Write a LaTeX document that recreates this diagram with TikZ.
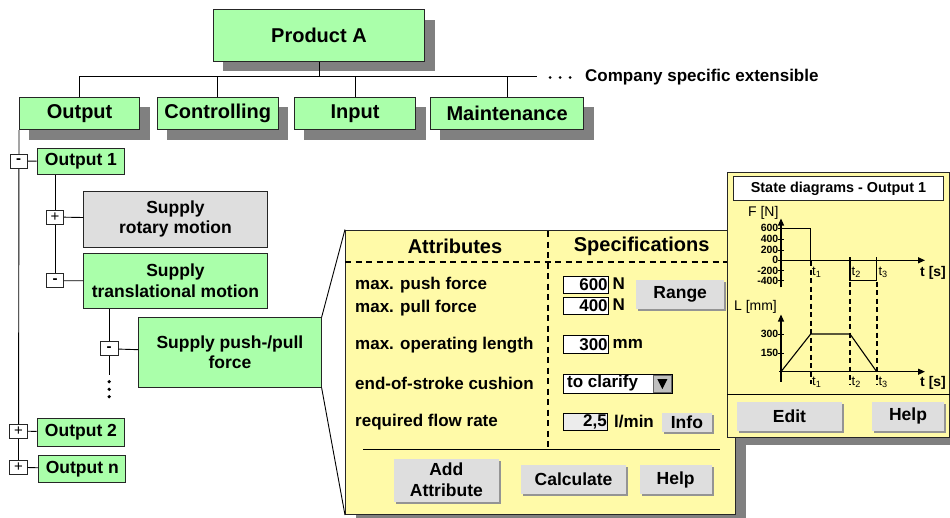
\documentclass[tikz,border=0pt]{standalone}
\usepackage{fontspec}
\setmainfont{Liberation Sans}
\usetikzlibrary{shadows,arrows.meta}
\definecolor{boxgreen}{RGB}{170,255,170}
\definecolor{shgray}{RGB}{128,128,128}
\definecolor{paneyellow}{RGB}{255,250,168}
\definecolor{btngray}{RGB}{222,222,222}
\definecolor{fieldgray}{RGB}{236,236,236}
\newcommand\setfs[2]{\fontsize{#1}{#2}\selectfont}
\begin{document}
\begin{tikzpicture}[x=1pt,y=-1pt,
  base/.style={inner sep=0pt, align=center, font=\bfseries\setfs{17.5}{20.5}},
  gbox/.style={base, draw=black!85, line width=0.9pt, fill=boxgreen},
  shadowed/.style={drop shadow={shadow xshift=10pt, shadow yshift=-10pt, fill=shgray, opacity=1}},
  toggle/.style={draw=black!85, line width=0.9pt, fill=white, minimum width=17.5pt,
    minimum height=14pt, inner sep=0pt},
  minus/.style={toggle, font=\bfseries\setfs{15}{15}},
  plus/.style={toggle, font=\setfs{15}{15}},
  btn/.style={base, fill=btngray, anchor=north west,
    drop shadow={shadow xshift=2pt, shadow yshift=-2pt, fill=black!42, opacity=1}},
  field/.style={draw=black, line width=0.8pt, fill=white, inner xsep=1pt, inner ysep=0pt,
    anchor=north west, align=right, font=\bfseries\setfs{17}{17}},
  lbl/.style={anchor=west, inner sep=0pt, font=\bfseries\setfs{17}{17}},
  tree/.style={line width=0.9pt},
  pane/.style={draw=black!85, line width=1pt, fill=paneyellow, inner sep=0pt, anchor=north west},
  sep/.style={dash pattern=on 6pt off 4.5pt, line width=2.2pt},
  axis/.style={line width=1.2pt, -{Triangle[length=7pt,width=6pt]}},
  curve/.style={line width=1.1pt},
  tdash/.style={dash pattern=on 5pt off 3.5pt, line width=1.6pt},
  ticklbl/.style={anchor=east, inner sep=0pt, font=\bfseries\setfs{10.5}{10.5}},
  axlbl/.style={inner sep=0pt, font=\setfs{14}{14}},
  tlbl/.style={anchor=west, inner sep=0pt, font=\setfs{13}{13}},
]
\useasboundingbox (0,0) rectangle (950,517);

% ---------- top of the hierarchy ----------
\node[gbox, shadowed, font=\bfseries\setfs{20}{22}, minimum width=211.6pt, minimum height=51.4pt,
  anchor=north west] (prod) at (212.7,9.3) {Product A};
\node[gbox, shadowed, font=\bfseries\setfs{20}{22}, minimum width=120.3pt, minimum height=32.6pt,
  anchor=north west] (out) at (19,96.7) {Output};
\node[gbox, shadowed, font=\bfseries\setfs{20}{22}, minimum width=121.3pt, minimum height=32.6pt,
  anchor=north west] (ctrl) at (156.7,96.7) {Controlling};
\node[gbox, shadowed, font=\bfseries\setfs{20}{22}, minimum width=121.3pt, minimum height=32.6pt,
  anchor=north west] (inp) at (294,96.7) {Input};
\node[gbox, shadowed, font=\bfseries\setfs{20}{22}, minimum width=153.3pt, minimum height=32.6pt,
  anchor=north west] (mnt) at (430,96.7) {Maintenance};

\coordinate (busend) at (536.7,76);
\draw[tree] (prod.south) -- (prod.south |- busend);
\draw[tree] (out.north) |- (busend);
\foreach \n in {ctrl,inp,mnt} \draw[tree] (\n.north) -- (\n.north |- busend);
\foreach \x in {550,560,570} \fill (\x,77.5) circle (1.5pt);
\node[lbl] (ext) at (585,77.5) {Company specific extensible};

% ---------- Output branch ----------
\node[gbox, minimum width=87.6pt, minimum height=26.3pt, anchor=north west] (o1) at (36.7,147.7) {Output 1};
\node[gbox, fill=black!13, minimum width=183.4pt, minimum height=56pt, anchor=north west] (rot)
  at (83.3,190.7) {Supply\\rotary motion};
\node[gbox, minimum width=183.4pt, minimum height=55.6pt, anchor=north west] (tr)
  at (83.3,252.7) {Supply\\translational motion};
\node[gbox, minimum width=182.4pt, minimum height=69.4pt, anchor=north west, font=\bfseries\setfs{17.5}{19.5}] (pp)
  at (138.3,317.3) {Supply push-/pull\\force};
\node[gbox, minimum width=87.6pt, minimum height=27.4pt, anchor=north west] (o2) at (36.7,418.3) {Output 2};
\node[gbox, minimum width=87pt, minimum height=26.7pt, anchor=north west] (on) at (38.3,455) {Output n};

\coordinate (tg1pos) at (18.7,161);
\coordinate (tgnpos) at (18.5,467.3);
\coordinate (ppend) at (109.2,375);
\draw[tree] (out.south west) -- (tgnpos);
\draw[tree] (55,0 |- o1.south) -- (55,280.7);
\draw[tree] (109.2,0 |- tr.south) -- (ppend);

\node[minus] (tg1) at (tg1pos) {-};
\node[plus] (tgrot) at (55,217) {+};
\node[minus] (tgtr) at (55,280.7) {-};
\node[minus] (tgpp) at (109.2,348.8) {-};
\node[plus] (tg2) at (18.5,431) {+};
\node[plus] (tgn) at (tgnpos) {+};
\draw[tree] (tg1) -- (o1);
\draw[tree] (tgrot) -- (rot);
\draw[tree] (tgtr) -- (tr);
\draw[tree] (tgpp) -- (pp);
\draw[tree] (tg2) -- (o2);
\draw[tree] (tgn) -- (on);
\foreach \y in {381.7,389.3,396.7} \fill (109.2,\y) circle (1.8pt);

% ---------- attribute sheet ----------
\node[pane, minimum width=390pt, minimum height=284.5pt, shadowed] (sheet) at (345,229.5) {};
\draw[line width=0.9pt] (pp.north east) -- (sheet.north west);
\draw[line width=0.9pt] (pp.south east) -- (sheet.south west);

\node[base, font=\bfseries\setfs{20}{20}] (hattr) at (455,246) {Attributes};
\node[base, font=\bfseries\setfs{20}{20}] (hspec) at (641.7,246) {Specifications};
\draw[sep] (345,261.7) -- (735,261.7);
\draw[sep] (548.3,231) -- (548.3,447);
\draw[line width=1pt] (363.3,449) -- (720,449);

\node[lbl] (a1) at (355,285) {max. push force};
\node[lbl] (a2) at (355,308.3) {max. pull force};
\node[lbl] (a3) at (355,345) {max. operating length};
\node[lbl] (a4) at (355,383.3) {end-of-stroke cushion};
\node[lbl] (a5) at (355,421.7) {required flow rate};

\node[field, text width=43pt, minimum height=16.7pt] (v1) at (563.3,276) {600};
\node[field, text width=43pt, minimum height=17.5pt] (v2) at (563.3,296.8) {400};
\node[lbl] (u1) at (612.5,284) {N};
\node[lbl] (u2) at (612.5,305) {N};
\node[btn, minimum width=88pt, minimum height=29pt] (range) at (636,279.3) {Range};

\node[field, text width=43pt, minimum height=17.7pt] (v3) at (563.3,335) {300};
\node[lbl] (u3) at (612.5,343.8) {mm};

\node[field, minimum width=108.4pt, minimum height=18.7pt] (v4) at (563.3,374) {};
\node[lbl] at (567,383.2) {to clarify};
\node[fill=black!25, draw=black!60, line width=0.6pt, minimum width=17.5pt, minimum height=17.5pt,
  inner sep=0pt, anchor=north east] (drop) at (671.4,374.6) {};
\fill ([xshift=-5pt,yshift=4.5pt]drop.center) -- ([xshift=5pt,yshift=4.5pt]drop.center)
  -- ([yshift=-5.5pt]drop.center) -- cycle;

\node[field, fill=fieldgray, text width=42pt, minimum height=17.3pt] (v5) at (563.3,412.7) {2,5};
\node[lbl] (u5) at (614,421.5) {l/min};
\node[btn, minimum width=50pt, minimum height=19pt] (info) at (661.7,412.7) {Info};

\node[btn, minimum width=104.3pt, minimum height=43.4pt, font=\bfseries\setfs{17.5}{21}] (add)
  at (394,458.3) {Add\\Attribute};
\node[btn, minimum width=105.3pt, minimum height=29pt] (calc) at (520.7,465) {Calculate};
\node[btn, minimum width=72.4pt, minimum height=29pt] (help1) at (639.3,465) {Help};

% ---------- state diagram window ----------
\node[pane, minimum width=221.5pt, minimum height=265pt,
  drop shadow={shadow xshift=8pt, shadow yshift=-8pt, fill=shgray, opacity=1}] (win) at (727,171.7) {};
\node[draw=black!85, line width=0.9pt, fill=white, minimum width=209.4pt, minimum height=24pt,
  inner sep=0pt, anchor=north west, font=\bfseries\setfs{14.4}{14.4}] (wtitle) at (733.3,176)
  {State diagrams - Output 1};
\draw[line width=0.9pt] (win.west |- 0,394) -- (win.east |- 0,394);
\node[btn, minimum width=105pt, minimum height=29pt] (edit) at (736.7,401.7) {Edit};
\node[btn, minimum width=72.3pt, minimum height=29pt] (help2) at (871.7,401.7) {Help};

% force diagram
\draw[axis] (781,287.3) -- (781,218.5);
\draw[axis] (779,260.3) -- (925,260.3);
\foreach \y/\t in {228.3/600,239.3/400,250/200,260.3/0,270.7/-200,280.7/-400}{
  \draw[line width=1pt] (778,\y) -- (784,\y);
  \node[ticklbl] at (778.5,\y) {\t};
}
\node[axlbl] (fl) at (763.3,213) {F [N]};
\draw[curve] (781,228.3) -- (810.7,228.3) -- (810.7,260.3);
\draw[curve] (850,257) -- (850,280.7) -- (876.7,280.7) -- (876.7,257);
\node[tlbl] at (812,272.5) {t\textsubscript{1}};
\node[tlbl] at (851.5,272.5) {t\textsubscript{2}};
\node[tlbl] at (878.3,272.5) {t\textsubscript{3}};
\node[axlbl, anchor=west, font=\bfseries\setfs{14}{14}] at (920,272.7) {t [s]};

% length diagram
\draw[axis] (781,381.7) -- (781,314.5);
\draw[axis] (779,371.7) -- (925,371.7);
\foreach \y/\t in {334/300,353.3/150}{
  \draw[line width=1pt] (778,\y) -- (784,\y);
  \node[ticklbl] at (778.5,\y) {\t};
}
\node[axlbl] (ll) at (755.5,306.7) {L [mm]};
\draw[curve] (781,371.7) -- (810.7,334) -- (850,334) -- (876.7,371.7);
\node[tlbl] at (812,382.5) {t\textsubscript{1}};
\node[tlbl] at (851.5,382.5) {t\textsubscript{2}};
\node[tlbl] at (878.3,382.5) {t\textsubscript{3}};
\node[axlbl, anchor=west, font=\bfseries\setfs{14}{14}] at (920,383.3) {t [s]};

\draw[tdash] (810.7,261) -- (810.7,384);
\draw[tdash] (850,281.5) -- (850,384);
\draw[tdash] (876.7,281.5) -- (876.7,384);
\end{tikzpicture}
\end{document}
